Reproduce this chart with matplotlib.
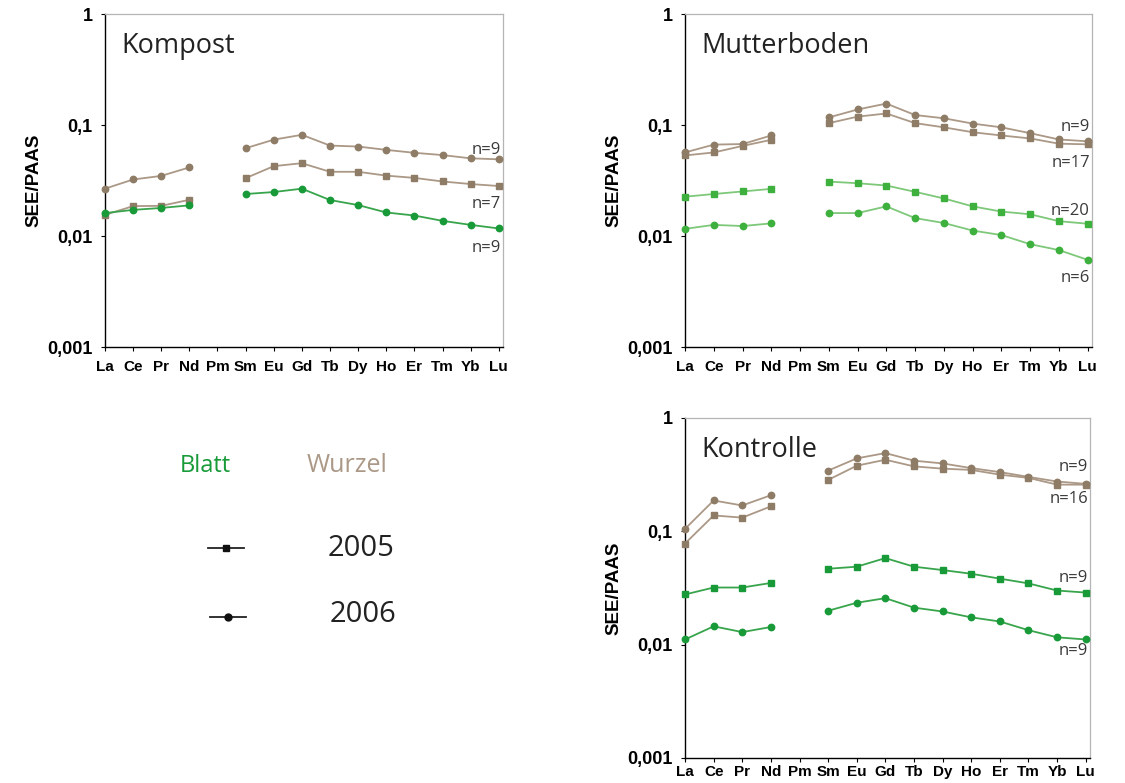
import numpy as np
import matplotlib
matplotlib.use("Agg")
import matplotlib.pyplot as plt
from matplotlib.ticker import FixedLocator, NullLocator

# Rare earth elements, chondrite order
elements = ["La", "Ce", "Pr", "Nd", "Pm", "Sm", "Eu", "Gd", "Tb", "Dy",
            "Ho", "Er", "Tm", "Yb", "Lu"]
light_ree = ["La", "Ce", "Pr", "Nd"]
heavy_ree = ["Sm", "Eu", "Gd", "Tb", "Dy", "Ho", "Er", "Tm", "Yb", "Lu"]

# SEE/PAAS values (La, Ce, Pr, Nd, Sm ... Lu)
kompost_wurzel_2006 = [0.0267, 0.0323, 0.0348, 0.0415, 0.0618, 0.0738, 0.0816,
                       0.0653, 0.0640, 0.0597, 0.0562, 0.0536, 0.0501, 0.0491]
kompost_wurzel_2005 = [0.0155, 0.0186, 0.0187, 0.0212, 0.0332, 0.0426, 0.0453,
                       0.0379, 0.0379, 0.0350, 0.0334, 0.0310, 0.0294, 0.0282]
kompost_blatt_2006 = [0.0161, 0.0172, 0.0179, 0.0189, 0.0239, 0.0249, 0.0267,
                      0.0211, 0.0190, 0.0163, 0.0153, 0.0137, 0.0126, 0.0117]

mutter_wurzel_2006 = [0.0566, 0.0666, 0.0674, 0.0805, 0.117, 0.138, 0.156,
                      0.123, 0.115, 0.103, 0.0953, 0.0844, 0.0741, 0.0713]
mutter_wurzel_2005 = [0.0532, 0.0566, 0.0648, 0.0736, 0.104, 0.119, 0.127,
                      0.104, 0.0953, 0.0861, 0.0805, 0.0757, 0.0679, 0.0670]
mutter_blatt_2005 = [0.0226, 0.0239, 0.0252, 0.0266, 0.0309, 0.0299, 0.0285,
                     0.0250, 0.0218, 0.0185, 0.0166, 0.0157, 0.0136, 0.0129]
mutter_blatt_2006 = [0.0116, 0.0126, 0.0123, 0.0130, 0.0161, 0.0161, 0.0185,
                     0.0145, 0.0131, 0.0112, 0.0102, 0.00844, 0.00747, 0.0061]

kontrolle_wurzel_2006 = [0.105, 0.187, 0.169, 0.208, 0.343, 0.440, 0.490,
                         0.420, 0.397, 0.361, 0.333, 0.302, 0.275, 0.262]
kontrolle_wurzel_2005 = [0.078, 0.138, 0.132, 0.166, 0.284, 0.379, 0.428,
                         0.374, 0.357, 0.348, 0.316, 0.296, 0.258, 0.258]
kontrolle_blatt_2005 = [0.0277, 0.0319, 0.0319, 0.0350, 0.0467, 0.0487, 0.0580,
                        0.0487, 0.0455, 0.0422, 0.0382, 0.0347, 0.0300, 0.0288]
kontrolle_blatt_2006 = [0.0111, 0.0145, 0.0129, 0.0143, 0.0199, 0.0234, 0.0257,
                        0.0212, 0.0196, 0.0174, 0.0160, 0.0134, 0.0116, 0.0111]

y_ticks = [0.001, 0.01, 0.1, 1]
y_tick_labels = ["0,001", "0,01", "0,1", "1"]

# (line colour, marker colour)
BROWN = ("#ab9886", "#8e7c66")
GREEN_DARK = ("#38a54c", "#189a38")
GREEN_LIGHT = ("#7ec87a", "#3db03e")
TEXT_GREY = "#3a3a3a"

TITLE_FONT = ["Open Sans", "DejaVu Sans"]
AXIS_FONT = ["Liberation Sans", "DejaVu Sans"]

fig = plt.figure(figsize=(11.25, 7.83), dpi=100)
fig.patch.set_facecolor("white")


def draw_series(ax, values, colors, marker):
    line_c, mark_c = colors
    xs_l = [elements.index(e) for e in light_ree]
    xs_h = [elements.index(e) for e in heavy_ree]
    vals = list(values)
    ms = 4.6 if marker == "o" else 4.0
    for xs, vs in ((xs_l, vals[:4]), (xs_h, vals[4:])):
        ax.plot(xs, vs, color=line_c, lw=1.3, marker=marker, ms=ms,
                mfc=mark_c, mec=mark_c, clip_on=False, zorder=3)


def setup_axes(rect, title, xpad=6):
    ax = fig.add_axes(rect)
    ax.set_yscale("log")
    ax.set_ylim(0.001, 1)
    ax.set_xlim(0, 14.15)
    ax.yaxis.set_major_locator(FixedLocator(y_ticks))
    ax.yaxis.set_minor_locator(NullLocator())
    ax.set_yticklabels(y_tick_labels, fontsize=13, fontweight="bold",
                       family=AXIS_FONT)
    ax.set_xticks(range(len(elements)))
    ax.set_xticklabels(elements, fontsize=11, fontweight="bold",
                       family=AXIS_FONT)
    ax.tick_params(axis="x", length=3, width=0.8, pad=xpad, colors="black")
    ax.tick_params(axis="y", length=3, width=0.8, pad=6, colors="black")
    for side in ("top", "right"):
        ax.spines[side].set_color("#b5b5b5")
        ax.spines[side].set_linewidth(0.9)
    for side in ("left", "bottom"):
        ax.spines[side].set_color("black")
        ax.spines[side].set_linewidth(1.0)
    ax.set_ylabel("SEE/PAAS", fontsize=13.5, fontweight="bold",
                  family=AXIS_FONT, labelpad=3)
    ax.text(16 / 400, 0.905, title, transform=ax.transAxes, fontsize=19.5,
            family=TITLE_FONT, color="#222222", va="center", ha="left")
    return ax


def n_label(ax, y, text):
    ax.annotate(text, xy=(1.0, y), xycoords=("axes fraction", "data"),
                xytext=(-1.5, 0), textcoords="offset points",
                ha="right", va="center", fontsize=12, family=TITLE_FONT,
                color=TEXT_GREY)


# Kompost
ax1 = setup_axes([0.0933, 0.5568, 0.3538, 0.4253], "Kompost")
draw_series(ax1, kompost_wurzel_2006, BROWN, "o")
draw_series(ax1, kompost_wurzel_2005, BROWN, "s")
draw_series(ax1, kompost_blatt_2006, GREEN_DARK, "o")
n_label(ax1, 0.0595, "n=9")
n_label(ax1, 0.0194, "n=7")
n_label(ax1, 0.0078, "n=9")

# Mutterboden
ax2 = setup_axes([0.6089, 0.5568, 0.3618, 0.4253], "Mutterboden")
draw_series(ax2, mutter_wurzel_2006, BROWN, "o")
draw_series(ax2, mutter_wurzel_2005, BROWN, "s")
draw_series(ax2, mutter_blatt_2005, GREEN_LIGHT, "s")
draw_series(ax2, mutter_blatt_2006, GREEN_LIGHT, "o")
n_label(ax2, 0.096, "n=9")
n_label(ax2, 0.0455, "n=17")
n_label(ax2, 0.0168, "n=20")
n_label(ax2, 0.0042, "n=6")

# Kontrolle
ax3 = setup_axes([0.6089, 0.0320, 0.3600, 0.4342], "Kontrolle", xpad=2)
draw_series(ax3, kontrolle_wurzel_2006, BROWN, "o")
draw_series(ax3, kontrolle_wurzel_2005, BROWN, "s")
draw_series(ax3, kontrolle_blatt_2005, GREEN_DARK, "s")
draw_series(ax3, kontrolle_blatt_2006, GREEN_DARK, "o")
n_label(ax3, 0.372, "n=9")
n_label(ax3, 0.191, "n=16")
n_label(ax3, 0.0387, "n=9")
n_label(ax3, 0.0087, "n=9")

# Key for plant part colours and sampling years
fig.text(205 / 1125, 1 - 466 / 783, "Blatt", color=GREEN_DARK[1], fontsize=17,
         family=TITLE_FONT, ha="center", va="center")
fig.text(347 / 1125, 1 - 466 / 783, "Wurzel", color=BROWN[0], fontsize=18,
         family=TITLE_FONT, ha="center", va="center")

key = fig.add_axes([0, 0, 1, 1], facecolor="none")
key.set_xlim(0, 1125)
key.set_ylim(783, 0)
key.axis("off")
key.plot([208, 244], [548, 548], color="#222222", lw=1.3)
key.plot([226], [548], color="#111111", marker="s", ms=4.5, ls="none")
key.plot([210, 246], [617, 617], color="#222222", lw=1.3)
key.plot([228], [617], color="#111111", marker="o", ms=5, ls="none")
fig.text(361 / 1125, 1 - 549 / 783, "2005", color="#222222", fontsize=21,
         family=TITLE_FONT, ha="center", va="center")
fig.text(363 / 1125, 1 - 615 / 783, "2006", color="#222222", fontsize=21,
         family=TITLE_FONT, ha="center", va="center")

fig.savefig("out.png", dpi=100, facecolor="white")
